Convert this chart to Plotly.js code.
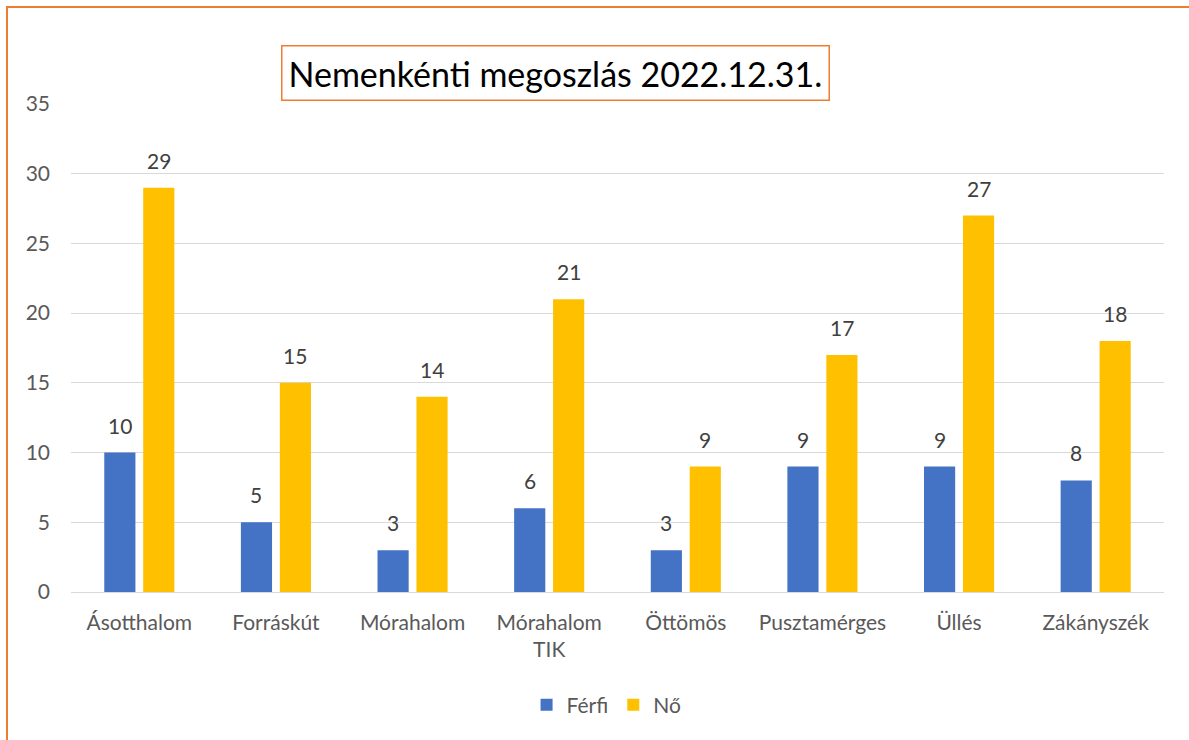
<!DOCTYPE html>
<html>
<head>
<meta charset="utf-8">
<script src="https://cdn.plot.ly/plotly-3.0.1.min.js"></script>
<style>
html,body{margin:0;padding:0;background:#fff;}
#frame{position:absolute;left:6px;top:6px;width:1200px;height:760px;border-left:2px solid #ED7D31;border-top:2px solid #ED7D31;pointer-events:none;z-index:5;}
#chart{position:absolute;left:0;top:0;width:1189px;height:740px;}
</style>
</head>
<body>
<div id="chart"></div>
<div id="frame"></div>
<script>
const categories = ["Ásotthalom", "Forráskút", "Mórahalom", "Mórahalom<br>TIK", "Öttömös", "Pusztamérges", "Üllés", "Zákányszék"];
const ferfi = [10, 5, 3, 6, 3, 9, 9, 8];
const no = [29, 15, 14, 21, 9, 17, 27, 18];
const yTicks = [0, 5, 10, 15, 20, 25, 30, 35];
const titleText = "Nemenkénti megoszlás 2022.12.31.";

const font = "Lato, 'Open Sans', sans-serif";
const bargap = 0.43;
const bargroupgap = 0.2;

const traces = [
  {type: 'bar', name: 'Férfi', x: categories, y: ferfi, marker: {color: '#4472C4'}},
  {type: 'bar', name: 'Nő', x: categories, y: no, marker: {color: '#FFC000'}}
];

// data labels as annotations positioned on the category axis with offsets
const groupW = 1 - bargap;
const slot = groupW / 2;
const labels = [];
[ferfi, no].forEach((vals, si) => {
  vals.forEach((v, i) => {
    labels.push({
      x: i - groupW / 2 + slot * (si + 0.5), y: v, xref: 'x', yref: 'y',
      text: String(v), showarrow: false, yanchor: 'bottom', xanchor: 'center', yshift: 13,
      font: {size: 21, color: '#404040', family: font}
    });
  });
});

const layout = {
  width: 1189, height: 740,
  margin: {l: 71, r: 25, t: 104, b: 148},
  paper_bgcolor: 'rgba(0,0,0,0)', plot_bgcolor: '#fff',
  font: {family: font, size: 21, color: '#595959'},
  barmode: 'group', bargap: bargap, bargroupgap: bargroupgap,
  xaxis: {type: 'category', showgrid: false, showline: false, zeroline: false, ticks: '',
          tickfont: {size: 21, color: '#595959'}, ticklabelstandoff: 16, fixedrange: true,
          range: [-0.5, categories.length - 0.5]},
  yaxis: {range: [0, 35], tickvals: yTicks, ticktext: yTicks.map(String), showgrid: true,
          gridcolor: '#D9D9D9', gridwidth: 1, zeroline: true, zerolinecolor: '#D9D9D9', zerolinewidth: 1,
          showline: false, ticks: '', tickfont: {size: 21, color: '#595959'}, ticklabelstandoff: 20, fixedrange: true},
  showlegend: true,
  legend: {orientation: 'h', x: 0.49, xanchor: 'center', y: -0.232, yanchor: 'middle',
           font: {size: 21, color: '#595959'}, itemwidth: 30, traceorder: 'normal'},
  annotations: [{
    text: titleText, xref: 'paper', yref: 'paper', x: 0.4437, y: 1.0635,
    xanchor: 'center', yanchor: 'middle', showarrow: false,
    font: {size: 34, color: '#000', family: font},
    bordercolor: '#ED7D31', borderwidth: 1.5, borderpad: 6, bgcolor: '#fff'
  }].concat(labels)
};

Plotly.newPlot('chart', traces, layout, {displayModeBar: false, staticPlot: true});
</script>
</body>
</html>
